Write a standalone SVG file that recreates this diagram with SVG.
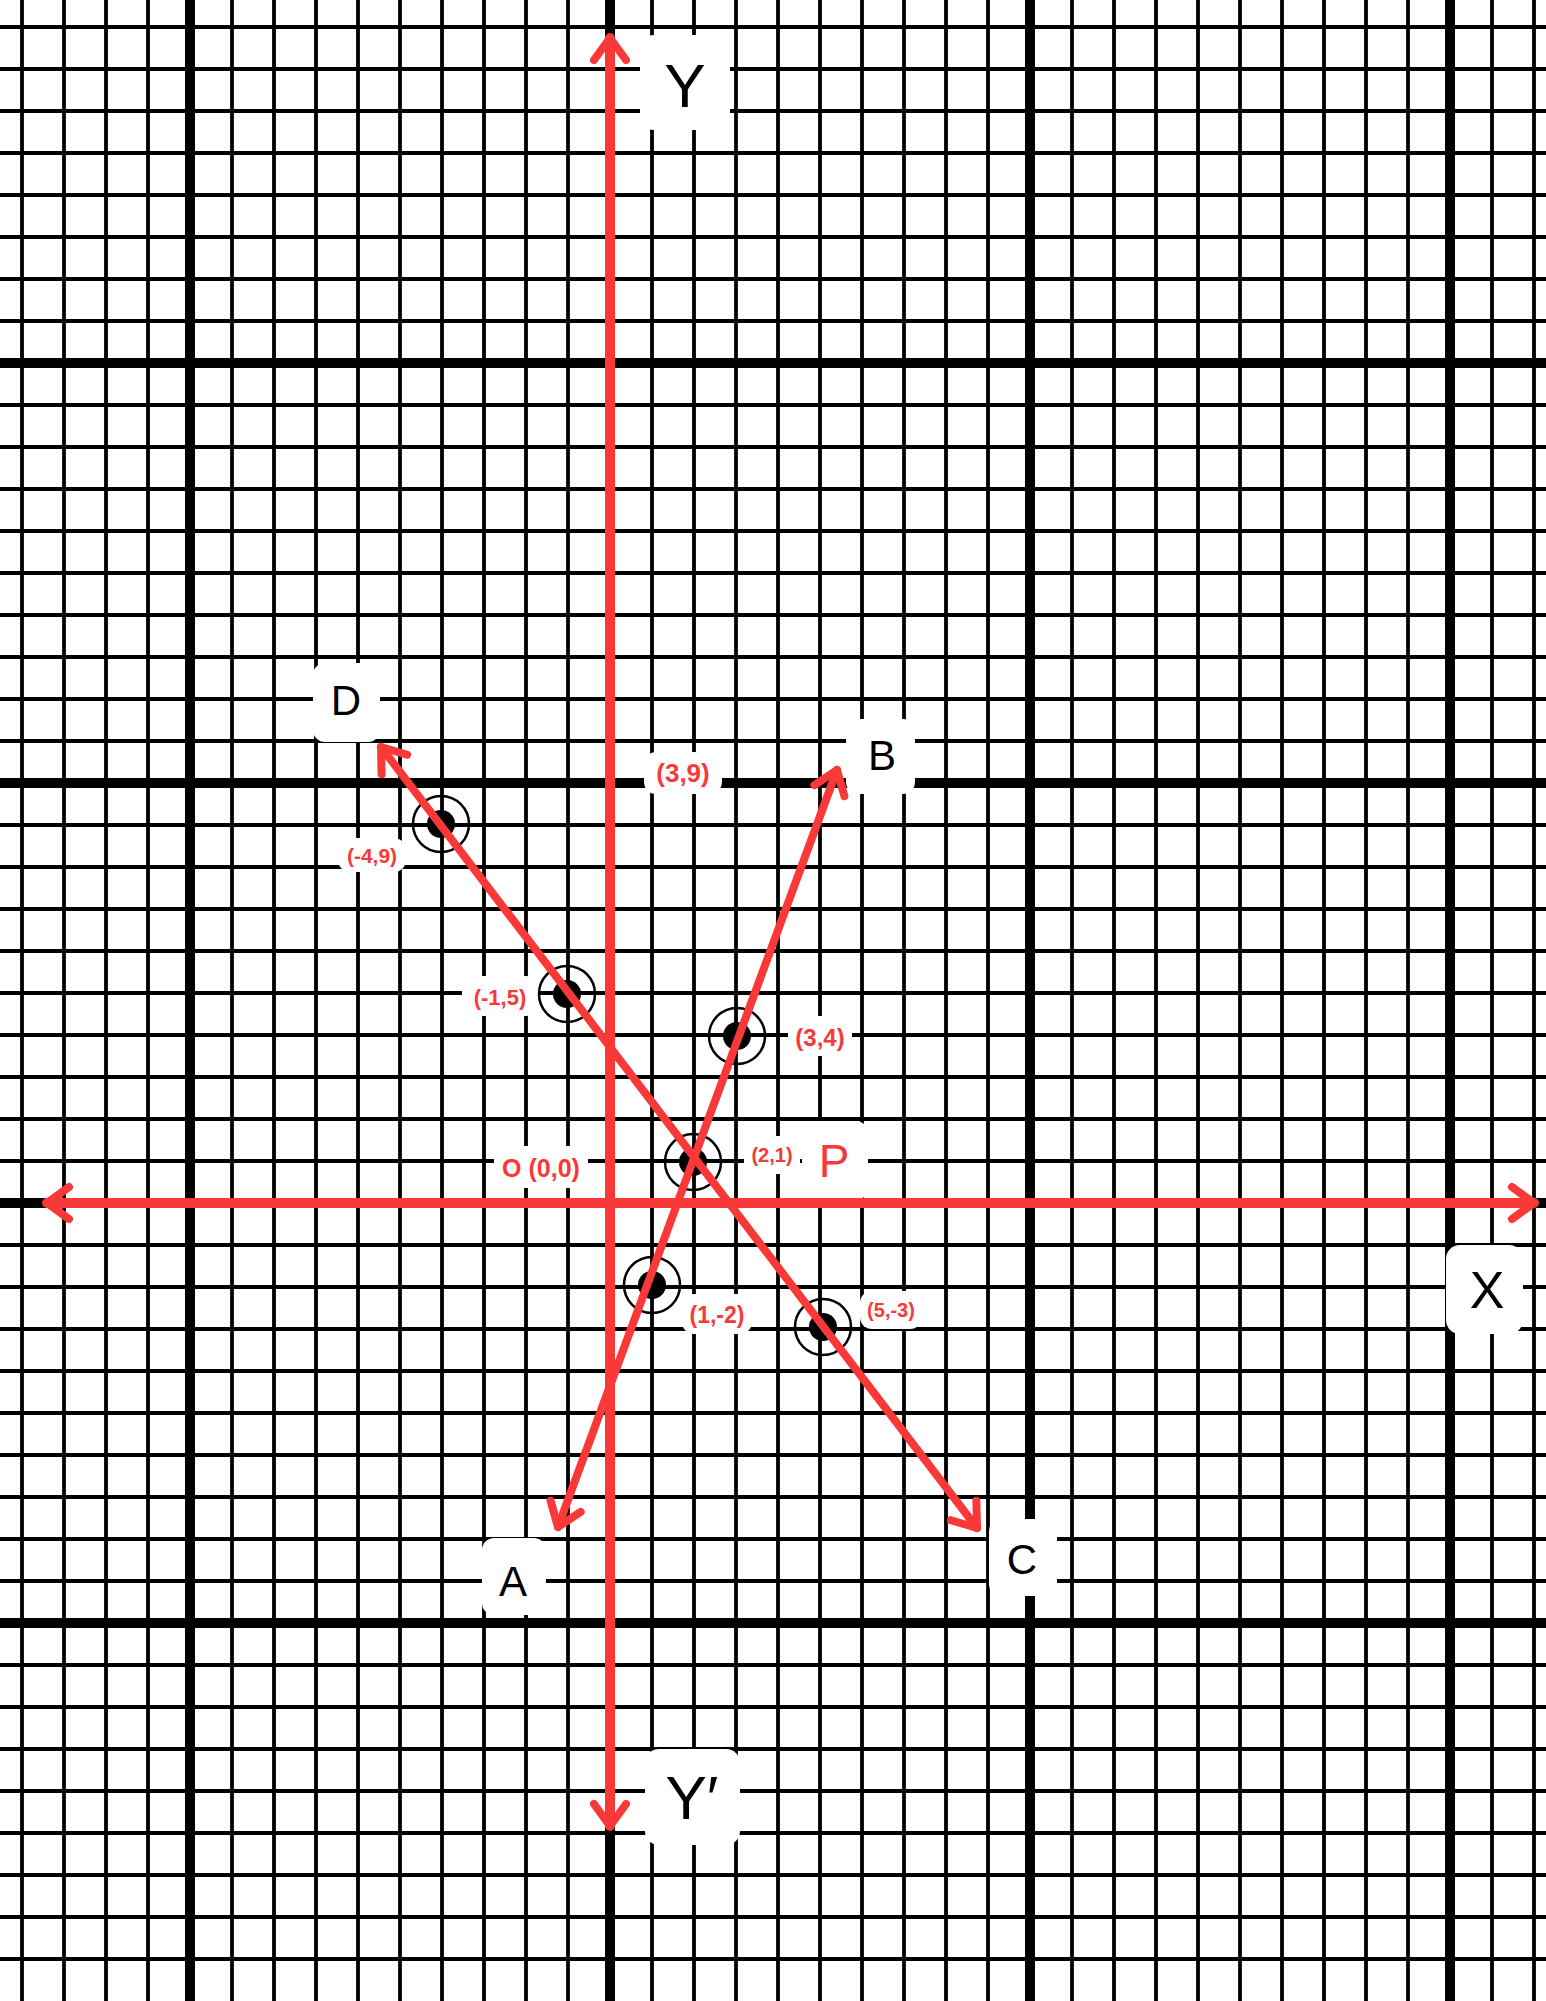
<svg xmlns="http://www.w3.org/2000/svg" width="1546" height="2001" viewBox="0 0 1546 2001">
<style>
.minor{stroke:#000;stroke-width:3.8;fill:none}
.major{stroke:#000;stroke-width:10;fill:none}
.bg{fill:#fff}
.red{stroke:#f93838;stroke-width:8;fill:none;stroke-linecap:round}
.axis{stroke-width:10}
.big{font-family:"Liberation Sans",Arial,sans-serif;fill:#000;text-anchor:middle}
.bigr{font-family:"Liberation Sans",Arial,sans-serif;fill:#f93838;text-anchor:middle}
.lab{font-family:"Liberation Sans",Arial,sans-serif;font-weight:bold;fill:#f93838;text-anchor:middle}
.dot{fill:#000}
.ring{fill:none;stroke:#000;stroke-width:2.5}
</style>
<defs>
<marker id="chev" markerUnits="userSpaceOnUse" viewBox="-30 -25 40 50" refX="0" refY="0" markerWidth="40" markerHeight="50" orient="auto-start-reverse" overflow="visible">
<path d="M -22 -16 L 0 0 L -22 16" fill="none" stroke="#f93838" stroke-width="8" stroke-linecap="round" stroke-linejoin="round"/>
</marker>
</defs>
<rect x="0" y="0" width="1546" height="2001" fill="#fff"/>
<g id="grid">
<path class="minor" d="M22 0V2001M64 0V2001M106 0V2001M148 0V2001M232 0V2001M274 0V2001M316 0V2001M358 0V2001M400 0V2001M442 0V2001M484 0V2001M526 0V2001M568 0V2001M652 0V2001M694 0V2001M736 0V2001M778 0V2001M820 0V2001M862 0V2001M904 0V2001M946 0V2001M988 0V2001M1072 0V2001M1114 0V2001M1156 0V2001M1198 0V2001M1240 0V2001M1282 0V2001M1324 0V2001M1366 0V2001M1408 0V2001M1492 0V2001M1534 0V2001"/>
<path class="minor" d="M0 27H1546M0 69H1546M0 111H1546M0 153H1546M0 195H1546M0 237H1546M0 279H1546M0 321H1546M0 405H1546M0 447H1546M0 489H1546M0 531H1546M0 573H1546M0 615H1546M0 657H1546M0 699H1546M0 741H1546M0 825H1546M0 867H1546M0 909H1546M0 951H1546M0 993H1546M0 1035H1546M0 1077H1546M0 1119H1546M0 1161H1546M0 1245H1546M0 1287H1546M0 1329H1546M0 1371H1546M0 1413H1546M0 1455H1546M0 1497H1546M0 1539H1546M0 1581H1546M0 1665H1546M0 1707H1546M0 1749H1546M0 1791H1546M0 1833H1546M0 1875H1546M0 1917H1546M0 1959H1546"/>
<path class="major" d="M190 0V2001M610 0V2001M1030 0V2001M1450 0V2001M0 363H1546M0 783H1546M0 1203H1546M0 1623H1546"/>
</g>
<g id="label-backgrounds">
<rect class="bg" x="640" y="35" width="90" height="95" rx="14"/>
<rect class="bg" x="313" y="663" width="67" height="79" rx="12"/>
<rect class="bg" x="846" y="719" width="69" height="75" rx="12"/>
<rect class="bg" x="802" y="1121" width="66" height="79" rx="12"/>
<rect class="bg" x="1446" y="1245" width="77" height="89" rx="14"/>
<rect class="bg" x="989" y="1519" width="68" height="77" rx="12"/>
<rect class="bg" x="482" y="1538" width="64" height="77" rx="12"/>
<rect class="bg" x="645" y="1749" width="95" height="96" rx="14"/>
<rect class="bg" x="644" y="752" width="78" height="42" rx="12"/>
<rect class="bg" x="338" y="838" width="68" height="34" rx="12"/>
<rect class="bg" x="462" y="976" width="76" height="40" rx="12"/>
<rect class="bg" x="788" y="1016" width="64" height="40" rx="12"/>
<rect class="bg" x="744" y="1136" width="56" height="38" rx="12"/>
<rect class="bg" x="494" y="1146" width="94" height="42" rx="12"/>
<rect class="bg" x="682" y="1294" width="70" height="40" rx="12"/>
<rect class="bg" x="860" y="1291" width="62" height="38" rx="12"/>
</g>
<g id="points">
<g id="pt-m4-9"><circle class="ring" cx="441" cy="824" r="28"/><circle class="dot" cx="441" cy="824" r="14"/></g>
<g id="pt-m1-5"><circle class="ring" cx="567" cy="994" r="28"/><circle class="dot" cx="567" cy="994" r="14"/></g>
<g id="pt-3-4"><circle class="ring" cx="737" cy="1036" r="28"/><circle class="dot" cx="737" cy="1036" r="14"/></g>
<g id="pt-2-1"><circle class="ring" cx="693" cy="1162" r="28"/><circle class="dot" cx="693" cy="1162" r="14"/></g>
<g id="pt-1-m2"><circle class="ring" cx="652" cy="1285" r="28"/><circle class="dot" cx="652" cy="1285" r="14"/></g>
<g id="pt-5-m3"><circle class="ring" cx="823" cy="1327" r="28"/><circle class="dot" cx="823" cy="1327" r="14"/></g>
</g>
<g id="connectors">
<line id="y-axis" class="red axis" x1="610" y1="1826" x2="610" y2="38" marker-start="url(#chev)" marker-end="url(#chev)"/>
<line id="x-axis" class="red axis" x1="47" y1="1203" x2="1534" y2="1203" marker-start="url(#chev)" marker-end="url(#chev)"/>
<line id="line-DC" class="red" x1="381" y1="747" x2="977" y2="1528" marker-start="url(#chev)" marker-end="url(#chev)"/>
<line id="line-AB" class="red" x1="558" y1="1527" x2="837" y2="770" marker-start="url(#chev)" marker-end="url(#chev)"/>
</g>
<g id="labels">
<text class="big" x="685" y="107" font-size="62">Y</text>
<text class="big" x="346" y="715" font-size="42">D</text>
<text class="big" x="882" y="770" font-size="42">B</text>
<text class="bigr" x="834" y="1177" font-size="46">P</text>
<text class="big" x="1487" y="1308" font-size="52">X</text>
<text class="big" x="1022" y="1574" font-size="42">C</text>
<text class="big" x="513" y="1596" font-size="42">A</text>
<text class="big" x="692" y="1819" font-size="62">Y′</text>
<text class="lab" x="683" y="782" font-size="26">(3,9)</text>
<text class="lab" x="372" y="863" font-size="21">(-4,9)</text>
<text class="lab" x="500" y="1005" font-size="22">(-1,5)</text>
<text class="lab" x="820" y="1046" font-size="24">(3,4)</text>
<text class="lab" x="772" y="1162" font-size="20">(2,1)</text>
<text class="lab" x="541" y="1177" font-size="25">O (0,0)</text>
<text class="lab" x="717" y="1323" font-size="23">(1,-2)</text>
<text class="lab" x="891" y="1317" font-size="20">(5,-3)</text>
</g>
</svg>
